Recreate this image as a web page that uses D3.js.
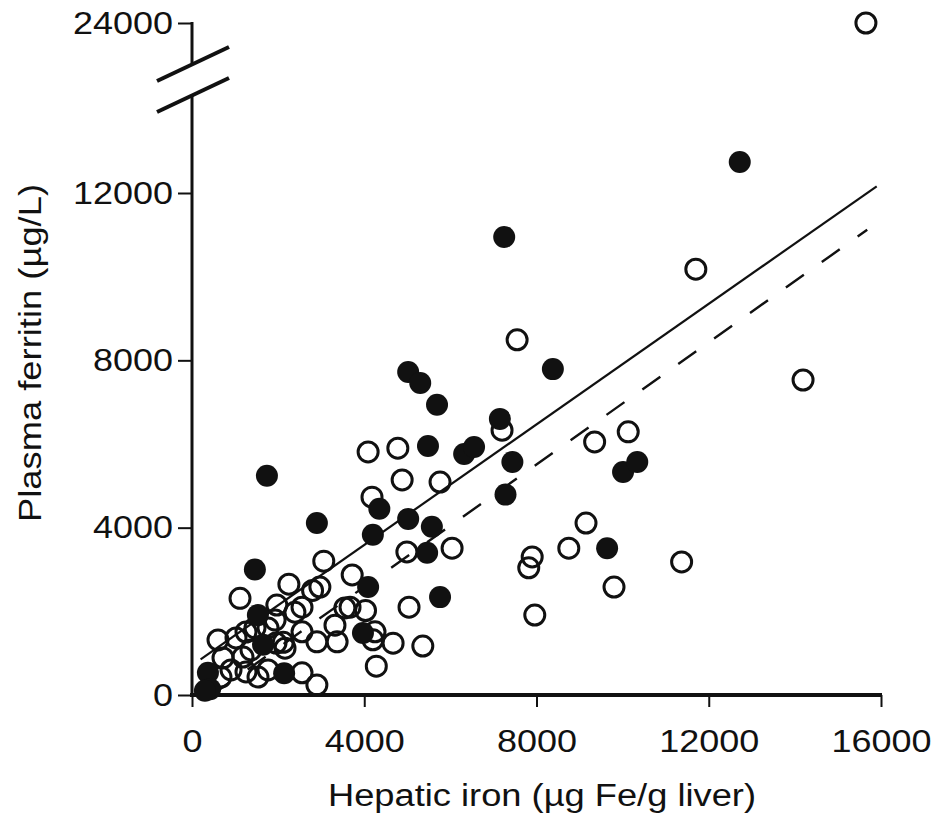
<!DOCTYPE html>
<html>
<head>
<meta charset="utf-8">
<script src="https://cdn.jsdelivr.net/npm/d3@7"></script>
<style>
  html, body { margin: 0; padding: 0; background: #fff; }
  svg { display: block; font-family: "Liberation Sans", Arial, Helvetica, sans-serif; }
</style>
</head>
<body>
<svg id="chart" width="935" height="815"></svg>
<script>
// hepatic iron (x) vs plasma ferritin (y)
const openPoints = [
  [15650, 24000],
  [11700, 10180], [7550, 8490], [14190, 7530], [7200, 6330], [9350, 6050],
  [10130, 6290], [9150, 4110], [8750, 3510], [7900, 3300], [7820, 3040],
  [11370, 3180], [9800, 2580], [7960, 1910],
  [4090, 5810], [4780, 5900], [4880, 5140], [5760, 5090], [4180, 4730],
  [4990, 3420], [6040, 3510], [3720, 2870], [3670, 2100], [4030, 2020],
  [5040, 2100], [4250, 1510], [4200, 1320], [4670, 1240], [5360, 1170],
  [4280, 690],
  [3060, 3200], [2970, 2580], [2800, 2500], [2250, 2650], [1970, 2150],
  [2555, 2100], [2390, 1980], [3550, 2080], [3320, 1670], [2555, 1510],
  [2900, 1270], [3370, 1270], [2160, 1120], [2120, 1260], [1930, 1790],
  [2555, 530], [2900, 240], [1115, 2310],
  [604, 1315], [1022, 1363], [1254, 1506], [1463, 1602], [1765, 1602],
  [1951, 1243], [720, 885], [1184, 908], [1370, 1076], [906, 598],
  [1254, 550], [1533, 430], [1765, 598], [673, 430]
];

const filledPoints = [
  [12720, 12740], [7250, 10950], [5020, 7720], [5300, 7460], [5690, 6940],
  [8380, 7790], [1740, 5240], [5480, 5950], [6320, 5760], [6550, 5930],
  [7150, 6600], [7440, 5570], [7280, 4790], [2900, 4110], [4350, 4450],
  [4200, 3830], [5020, 4210], [5570, 4020], [5460, 3400], [4090, 2580],
  [5760, 2340], [3970, 1480], [1460, 3000], [1530, 1910], [1650, 1200],
  [2140, 520], [370, 530], [420, 140], [300, 100], [9640, 3510],
  [10010, 5330], [10340, 5570]
];

// regression lines (endpoints)
const solidLine = [[200, 850], [15900, 12160]];
const dashedLine = [[460, 0], [15680, 11120]];

const xTicks = [0, 4000, 8000, 12000, 16000];
const yTicks = [0, 4000, 8000, 12000];
const yBreakTicks = [24000];

const svg = d3.select('#chart');

const x = d3.scaleLinear().domain([0, 16000]).range([192, 881]);
const y = d3.scaleLinear().domain([0, 12000]).range([695, 193]);
// segment above the axis break
const yTop = d3.scaleLinear().domain([22000, 24000]).range([107, 23]);

const yOf = (v) => (v > 14500 ? yTop(v) : y(v));

// the printed digits are a little wider than Liberation Sans
const styleTicks = (g) => {
  g.select('.domain').remove();
  g.selectAll('line').attr('stroke', '#111').attr('stroke-width', 2);
  g.selectAll('text')
    .attr('font-size', 32)
    .attr('fill', '#111')
    .attr('textLength', function () { return this.textContent.length * 20; })
    .attr('lengthAdjust', 'spacingAndGlyphs');
};

// x axis
svg.append('g')
  .attr('transform', 'translate(0,695)')
  .call(d3.axisBottom(x).tickValues(xTicks).tickSize(12).tickPadding(22).tickFormat(d3.format('d')))
  .call(styleTicks);
svg.append('line')
  .attr('x1', 190).attr('x2', x(16000) + 1)
  .attr('y1', 695).attr('y2', 695)
  .attr('stroke', '#111').attr('stroke-width', 4);

// y axis, lower part
svg.append('g')
  .attr('transform', 'translate(192,0)')
  .call(d3.axisLeft(y).tickValues(yTicks).tickSize(14).tickPadding(5).tickFormat(d3.format('d')))
  .call(styleTicks);

// y axis, upper part
svg.append('g')
  .attr('transform', 'translate(192,0)')
  .call(d3.axisLeft(yTop).tickValues(yBreakTicks).tickSize(14).tickPadding(5).tickFormat(d3.format('d')))
  .call(styleTicks);

svg.append('line')
  .attr('x1', 192).attr('x2', 192).attr('y1', yTop(24000) - 1).attr('y2', 63)
  .attr('stroke', '#111').attr('stroke-width', 3);
svg.append('line')
  .attr('x1', 192).attr('x2', 192).attr('y1', 95).attr('y2', 697)
  .attr('stroke', '#111').attr('stroke-width', 3);

// break marks
[[157, 81, 229, 47], [157, 112, 229, 78]].forEach(([x1, y1, x2, y2]) => {
  svg.append('line')
    .attr('x1', x1).attr('y1', y1).attr('x2', x2).attr('y2', y2)
    .attr('stroke', '#111').attr('stroke-width', 4).attr('stroke-linecap', 'butt');
});

// regression lines
const line = d3.line().x((d) => x(d[0])).y((d) => y(d[1]));
svg.append('path')
  .attr('d', line(solidLine))
  .attr('fill', 'none').attr('stroke', '#111').attr('stroke-width', 2.2);
svg.append('path')
  .attr('d', line(dashedLine))
  .attr('fill', 'none').attr('stroke', '#111').attr('stroke-width', 2.4)
  .attr('stroke-dasharray', '22,22');

// points
svg.append('g').selectAll('circle')
  .data(openPoints)
  .join('circle')
  .attr('cx', (d) => x(d[0]))
  .attr('cy', (d) => yOf(d[1]))
  .attr('r', 10)
  .attr('fill', 'none')
  .attr('stroke', '#111')
  .attr('stroke-width', 3);

svg.append('g').selectAll('circle')
  .data(filledPoints)
  .join('circle')
  .attr('cx', (d) => x(d[0]))
  .attr('cy', (d) => yOf(d[1]))
  .attr('r', 11)
  .attr('fill', '#111');

// axis titles
svg.append('text')
  .attr('x', 542).attr('y', 806)
  .attr('text-anchor', 'middle')
  .attr('font-size', 31)
  .attr('textLength', 428).attr('lengthAdjust', 'spacingAndGlyphs')
  .attr('fill', '#111')
  .text('Hepatic iron (\u00b5g Fe/g liver)');

svg.append('text')
  .attr('transform', 'translate(41,353) rotate(-90)')
  .attr('text-anchor', 'middle')
  .attr('font-size', 31)
  .attr('textLength', 338).attr('lengthAdjust', 'spacingAndGlyphs')
  .attr('fill', '#111')
  .text('Plasma ferritin (\u00b5g/L)');
</script>
</body>
</html>
